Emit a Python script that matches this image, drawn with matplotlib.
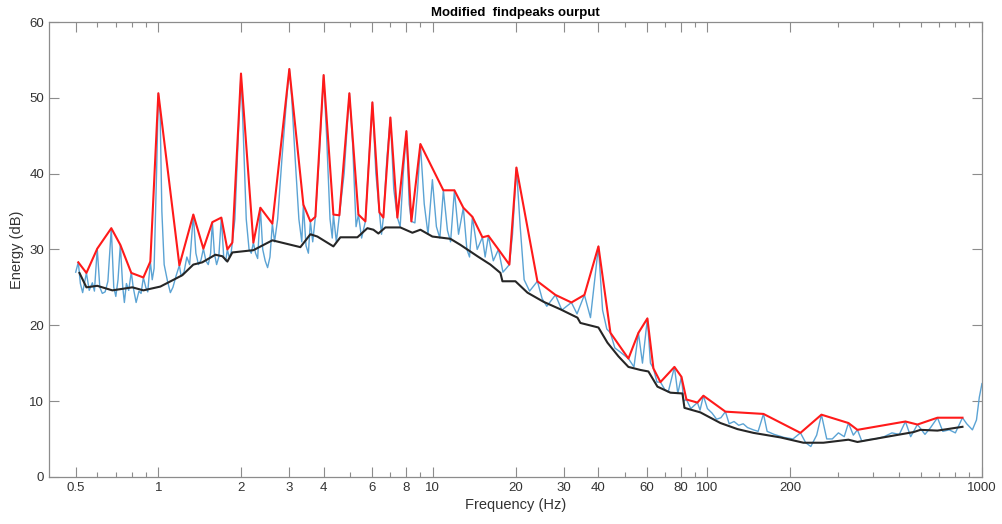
import numpy as np
import matplotlib
matplotlib.use('Agg')
import matplotlib.pyplot as plt
from matplotlib.ticker import FixedLocator, NullFormatter

plt.rcParams['font.family'] = ['Liberation Sans', 'DejaVu Sans']

# spectrum (blue)
blue_f = [0.50, 0.511, 0.52, 0.53, 0.547, 0.56, 0.575, 0.585, 0.599, 0.612, 0.625, 0.64, 0.655,
          0.674, 0.688, 0.70, 0.713, 0.727, 0.742, 0.752, 0.765, 0.78, 0.797, 0.81, 0.83, 0.85,
          0.865, 0.882, 0.90, 0.915, 0.935, 0.95, 0.965, 0.985, 1.0, 1.015, 1.03, 1.05, 1.08,
          1.106, 1.13, 1.16, 1.193, 1.21, 1.24, 1.27, 1.30, 1.341, 1.37, 1.40, 1.43, 1.459, 1.49,
          1.52, 1.55, 1.573, 1.60, 1.63, 1.66, 1.696, 1.73, 1.76, 1.784, 1.81, 1.84, 1.86, 1.90,
          1.95, 2.0, 2.04, 2.09, 2.14, 2.18, 2.219, 2.26, 2.30, 2.353, 2.40, 2.45, 2.50, 2.55,
          2.602, 2.65, 2.72, 2.82, 2.92, 3.0, 3.06, 3.15, 3.25, 3.33, 3.375, 3.45, 3.52, 3.579,
          3.65, 3.732, 3.85, 4.0, 4.10, 4.22, 4.30, 4.341, 4.45, 4.564, 4.75, 4.964, 5.1, 5.25,
          5.354, 5.5, 5.677, 5.85, 6.021, 6.2, 6.385, 6.5, 6.601, 6.8, 7.002, 7.2, 7.425, 7.6,
          7.8, 8.008, 8.2, 8.35, 8.6, 8.8, 9.005, 9.3, 9.6, 9.958, 10.3, 10.6, 10.92, 11.3, 11.6,
          11.98, 12.4, 12.91, 13.3, 13.6, 13.93, 14.5, 15.15, 15.5, 15.93, 16.6, 17.33, 18.0,
          18.5, 18.99, 19.5, 20.15, 20.8, 21.5, 22.5, 24.03, 25.0, 26.0, 27.95, 29.5, 31.96,
          33.5, 35.64, 37.5, 40.09, 41.5, 43.0, 44.33, 46.0, 48.0, 51.55, 54.0, 56.07, 58.0,
          60.44, 62.0, 63.58, 65.5, 67.43, 70.0, 72.0, 75.83, 78.0, 80.41, 82.0, 83.85, 87.0,
          91.95, 94.0, 96.69, 100.0, 104, 108, 112, 116.3, 120, 125, 130, 135, 140, 147, 153,
          160.0, 165, 175, 190, 205, 218.2, 228, 238, 250, 260.2, 272, 285, 300, 315, 326.3,
          340, 351.9, 365, 385, 410, 440, 470, 500, 526.3, 550, 582.1, 620, 650, 688.5, 720,
          760, 800, 849.1, 880, 923, 955, 978, 1000]
blue_db = [27.0, 28.3, 25.5, 24.3, 26.9, 24.6, 25.6, 24.5, 30.1, 25.0, 24.2, 24.4, 25.8,
           32.8, 25.0, 23.8, 26.0, 30.6, 25.0, 23.0, 25.5, 24.6, 27.0, 25.0, 23.0, 24.5,
           24.2, 26.3, 25.0, 24.4, 28.4, 26.0, 27.5, 40.0, 50.6, 48.0, 35.0, 28.0, 25.8,
           24.3, 25.0, 26.5, 27.9, 26.5, 27.0, 29.0, 28.0, 34.6, 29.5, 28.0, 28.6, 30.1, 28.5,
           28.0, 29.5, 33.6, 29.5, 28.0, 29.0, 34.2, 29.0, 28.5, 30.0, 29.0, 29.5, 30.9, 34.0,
           44.0, 53.2, 45.0, 34.0, 30.0, 29.5, 30.9, 29.5, 28.8, 35.5, 30.0, 28.5, 27.6, 29.0,
           33.4, 31.0, 34.0, 42.0, 49.0, 53.8, 50.0, 42.0, 34.0, 31.0, 35.9, 30.5, 29.5, 33.7,
           31.0, 34.3, 42.0, 53.0, 45.0, 34.0, 31.5, 34.6, 31.0, 34.5, 40.0, 50.6, 44.0, 33.0,
           34.6, 31.5, 33.7, 42.0, 49.4, 40.0, 34.9, 32.0, 34.2, 42.0, 47.4, 38.0, 34.2, 33.0,
           40.0, 45.6, 36.0, 33.7, 33.5, 38.0, 43.9, 36.0, 32.0, 39.2, 33.0, 31.5, 37.8, 32.5, 31.0,
           37.8, 32.0, 35.5, 30.0, 29.0, 34.3, 30.0, 31.6, 29.0, 31.8, 28.5, 30.0, 27.0,
           27.5, 28.0, 32.0, 40.8, 33.0, 26.0, 24.5, 25.8, 23.5, 22.5, 24.0, 22.0, 23.0,
           21.5, 24.0, 21.0, 30.4, 22.0, 19.5, 19.0, 17.0, 16.5, 15.6, 14.5, 19.0, 15.0,
           20.9, 15.0, 14.3, 12.5, 12.5, 11.5, 11.2, 14.5, 11.0, 13.2, 10.0, 10.2, 9.0,
           9.8, 8.8, 10.7, 9.0, 8.4, 7.6, 7.8, 8.6, 7.0, 7.3, 6.8, 7.0, 6.5, 6.2, 6.0,
           8.3, 6.0, 5.6, 5.2, 5.0, 5.8, 4.5, 4.0, 5.5, 8.2, 5.0, 5.0, 5.8, 5.3, 7.1,
           5.5, 6.2, 4.7, 4.9, 5.0, 5.3, 5.8, 5.6, 7.3, 5.3, 6.9, 5.6, 6.5, 7.8, 6.0,
           6.2, 5.8, 7.8, 7.0, 6.2, 7.5, 10.5, 12.3]

# findpeaks envelope (red)
peak_f = [0.511, 0.547, 0.599, 0.674, 0.727, 0.797, 0.882, 0.935, 1.0, 1.193, 1.341, 1.459,
          1.573, 1.696, 1.784, 1.86, 2.0, 2.219, 2.353, 2.602, 3.0, 3.375, 3.579, 3.732, 4.0,
          4.341, 4.564, 4.964, 5.354, 5.677, 6.021, 6.385, 6.601, 7.002, 7.425, 8.008, 8.35,
          9.005, 10.92, 11.98, 12.91, 13.93, 15.15, 15.93, 17.33, 18.99, 20.15, 24.03, 27.95,
          31.96, 35.64, 40.09, 44.33, 51.55, 56.07, 60.44, 63.58, 67.43, 75.83, 80.41, 83.85,
          91.95, 96.69, 116.3, 160.0, 218.2, 260.2, 326.3, 351.9, 526.3, 582.1, 688.5, 849.1]
peak_db = [28.3, 26.9, 30.1, 32.8, 30.6, 26.9, 26.3, 28.4, 50.6, 27.9, 34.6, 30.1,
           33.6, 34.2, 30.0, 30.9, 53.2, 30.9, 35.5, 33.4, 53.8, 35.9, 33.7, 34.3, 53.0,
           34.6, 34.5, 50.6, 34.6, 33.7, 49.4, 34.9, 34.2, 47.4, 34.2, 45.6, 33.7,
           43.9, 37.8, 37.8, 35.5, 34.3, 31.6, 31.8, 30.0, 28.0, 40.8, 25.8, 24.0,
           23.0, 24.0, 30.4, 19.0, 15.6, 19.0, 20.9, 14.3, 12.5, 14.5, 13.2, 10.2,
           9.8, 10.7, 8.6, 8.3, 5.8, 8.2, 7.1, 6.2, 7.3, 6.9, 7.8, 7.8]

# smoothed floor (black)
floor_f = [0.516, 0.547, 0.599, 0.68, 0.804, 0.882, 1.017, 1.223, 1.341, 1.446, 1.613, 1.711,
           1.784, 1.86, 2.219, 2.602, 3.291, 3.579, 3.795, 4.341, 4.603, 5.309, 5.773, 6.072,
           6.332, 6.714, 7.612, 8.42, 9.005, 9.958, 11.58, 12.6, 14.53, 16.2, 17.62, 17.92,
           19.98, 22.1, 25.27, 29.14, 33.61, 34.46, 40.09, 43.23, 47.4, 51.55, 57.01, 60.96,
           65.75, 73.34, 81.1, 82.48, 94.3, 111.5, 128.6, 147.1, 184.5, 223.7, 264.6, 326.3,
           351.9, 452.6, 563.0, 597.0, 688.5, 849.1]
floor_db = [26.9, 25.0, 25.2, 24.6, 25.0, 24.6, 25.1, 26.6, 28.0, 28.3, 29.3, 29.1,
            28.4, 29.6, 29.9, 31.2, 30.3, 32.0, 31.7, 30.4, 31.6, 31.6, 32.8, 32.6,
            32.1, 32.9, 32.9, 32.2, 32.6, 31.7, 31.4, 30.6, 29.1, 28.0, 26.9, 25.8,
            25.8, 24.3, 23.1, 22.1, 21.0, 20.3, 19.7, 17.7, 15.9, 14.5, 14.1, 13.9,
            11.9, 11.1, 11.0, 9.1, 8.5, 7.1, 6.3, 5.8, 5.2, 4.5, 4.5, 4.9,
            4.6, 5.3, 5.9, 6.2, 6.1, 6.6]

x_major = [0.5, 1, 2, 3, 4, 6, 8, 10, 20, 30, 40, 60, 80, 100, 200, 1000]
x_minor = [0.6, 0.7, 0.8, 0.9, 5, 7, 9, 50, 70, 90, 300, 400, 500, 600, 700, 800, 900]

fig = plt.figure(figsize=(10.02, 5.24), dpi=100)
ax = fig.add_axes([0.049, 0.09, 0.931, 0.868])

ax.plot(blue_f, blue_db, color='#5ba3d4', linewidth=1.0)
ax.plot(floor_f, floor_db, color='#262626', linewidth=1.5)
ax.plot(peak_f, peak_db, color='#ff1a1a', linewidth=1.5)

ax.set_xscale('log')
ax.set_xlim(0.4, 1000)
ax.set_ylim(0, 60)
ax.xaxis.set_major_locator(FixedLocator(x_major))
ax.xaxis.set_minor_locator(FixedLocator(x_minor))
ax.xaxis.set_minor_formatter(NullFormatter())
ax.set_xticklabels([str(v) for v in x_major])
ax.set_yticks(np.arange(0, 61, 10))

for s in ax.spines.values():
    s.set_color('#8c8c8c')
    s.set_linewidth(0.9)
ax.tick_params(which='both', direction='in', top=True, right=True,
               colors='#8c8c8c', labelcolor='#333333', labelsize=9.5)
ax.tick_params(which='major', length=7, width=0.8)
ax.tick_params(which='minor', length=3.5, width=0.8)

ax.set_xlabel('Frequency (Hz)', fontsize=10.5, color='#333333', labelpad=3)
ax.set_ylabel('Energy (dB)', fontsize=10.5, color='#333333', labelpad=4)
ax.set_title('Modified  findpeaks ourput', fontsize=9.5, fontweight='bold', pad=4)

fig.savefig('out.png', dpi=100)
